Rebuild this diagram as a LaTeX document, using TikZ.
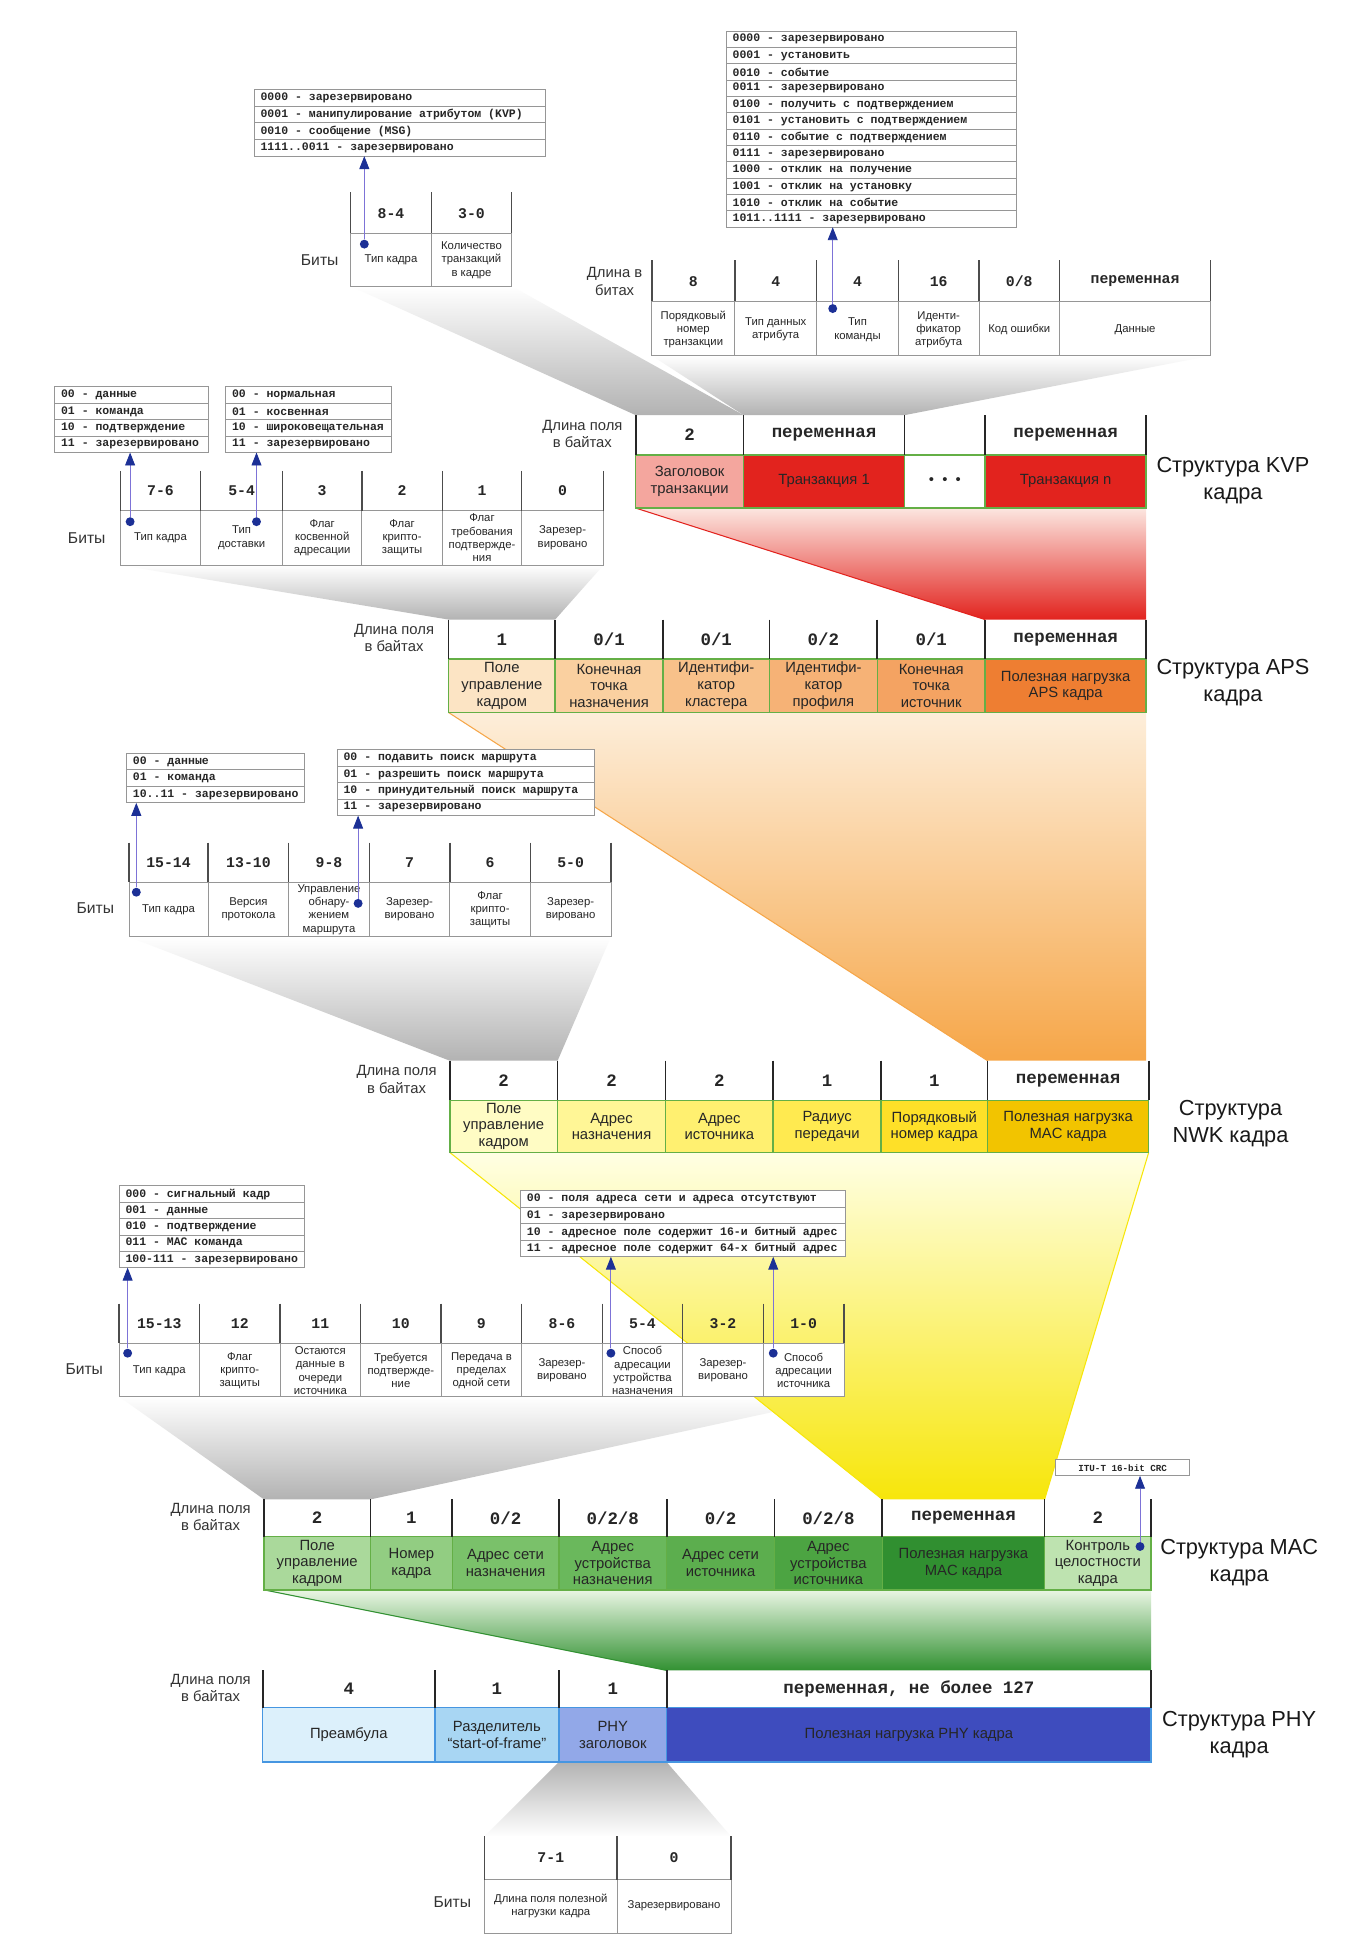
\documentclass[tikz,border=0pt]{standalone}
\usepackage{fontspec}
\setmainfont{Liberation Sans}
\setmonofont{Liberation Mono}
\usetikzlibrary{arrows.meta, positioning, calc}
\definecolor{dotBlue}{RGB}{28, 48, 150}
\definecolor{pointerLine}{RGB}{125, 115, 215}
\definecolor{ruleGray}{RGB}{150, 150, 150}
\definecolor{edgeGreen}{RGB}{100, 175, 70}
\definecolor{edgeBlue}{RGB}{70, 150, 225}
\definecolor{kvpPink}{RGB}{244, 166, 158}
\definecolor{kvpRed}{RGB}{226, 35, 30}
\definecolor{redTop}{RGB}{252, 230, 224}
\definecolor{apsA}{RGB}{252, 228, 196}
\definecolor{apsB}{RGB}{250, 208, 160}
\definecolor{apsC}{RGB}{248, 193, 138}
\definecolor{apsD}{RGB}{246, 178, 118}
\definecolor{apsE}{RGB}{244, 163, 98}
\definecolor{apsF}{RGB}{238, 126, 50}
\definecolor{orangeTop}{RGB}{253, 238, 218}
\definecolor{orangeBot}{RGB}{246, 166, 72}
\definecolor{nwkA}{RGB}{255, 252, 196}
\definecolor{nwkB}{RGB}{255, 246, 150}
\definecolor{nwkC}{RGB}{255, 240, 112}
\definecolor{nwkD}{RGB}{255, 234, 80}
\definecolor{nwkE}{RGB}{254, 224, 40}
\definecolor{nwkF}{RGB}{242, 196, 0}
\definecolor{yellowTop}{RGB}{255, 255, 228}
\definecolor{yellowBot}{RGB}{247, 230, 10}
\definecolor{macA}{RGB}{170, 217, 155}
\definecolor{macB}{RGB}{146, 205, 130}
\definecolor{macC}{RGB}{122, 193, 106}
\definecolor{macD}{RGB}{106, 184, 92}
\definecolor{macE}{RGB}{92, 174, 78}
\definecolor{macF}{RGB}{76, 164, 66}
\definecolor{macG}{RGB}{48, 143, 48}
\definecolor{macH}{RGB}{190, 227, 176}
\definecolor{greenTop}{RGB}{234, 246, 228}
\definecolor{greenBot}{RGB}{50, 145, 50}
\definecolor{phyA}{RGB}{220, 240, 251}
\definecolor{phyB}{RGB}{168, 214, 243}
\definecolor{phyC}{RGB}{146, 168, 232}
\definecolor{phyD}{RGB}{62, 76, 190}
\tikzset{
  lenRule/.style={draw=black!85, line width=1pt},
  fieldEdge/.style={draw=edgeGreen, line width=0.9pt},
  bitRule/.style={draw=black!70, line width=0.8pt},
  thinRule/.style={draw=ruleGray, line width=0.4pt},
  lenText/.style={font=\fontsize{10}{12}\selectfont\ttfamily\bfseries, text=black!85},
  fieldText/.style={font=\fontsize{8.5}{9.6}\selectfont, align=center, text=black!85, inner sep=0pt},
  bitNum/.style={font=\fontsize{8.5}{10}\selectfont\ttfamily\bfseries, text=black!85},
  bitText/.style={font=\fontsize{6.5}{7.6}\selectfont, align=center, text=black!85, inner sep=0pt},
  codeText/.style={font=\fontsize{6.6}{7}\selectfont\ttfamily\bfseries, text=black!85, anchor=west, inner sep=0pt},
  codeBox/.style={draw=ruleGray, fill=white, line width=0.5pt},
  sideText/.style={font=\fontsize{8.5}{10}\selectfont, align=center, text=black!80},
  bitsText/.style={font=\fontsize{9}{11}\selectfont, text=black!80},
  titleText/.style={font=\fontsize{12.5}{15.5}\selectfont, align=center, text=black!90},
  dotMark/.style={circle, fill=dotBlue, inner sep=0pt, minimum size=1.8mm},
  pointer/.style={draw=pointerLine, line width=0.5pt, -{Triangle[length=2.6mm, width=2mm, color=dotBlue]}},
  grayFunnel/.style={top color=white, bottom color=gray!60}
}

\begin{document}
\begin{tikzpicture}[x=0.25mm, y=-0.25mm]
  \useasboundingbox (0,0) rectangle (1096,1568);
  \fill[white] (0,0) rectangle (1096,1568);

  % Funnels between the levels
  \shade[grayFunnel] (283,231) -- (413,231) -- (600,335) -- (513,335) -- cycle;
  \shade[grayFunnel] (526,287) -- (977,287) -- (730,335) -- (600,335) -- cycle;
  \shade[grayFunnel] (97,456) -- (487,456) -- (448,500) -- (362,500) -- cycle;
  \shade[grayFunnel] (104,756) -- (493,756) -- (450,856) -- (363,856) -- cycle;
  \shade[grayFunnel] (96,1127) -- (681,1127) -- (299,1210) -- (213,1210) -- cycle;
  \shade[top color=gray!60, bottom color=white] (451,1422) -- (538,1422) -- (590,1482) -- (391,1482) -- cycle;
  \shade[top color=redTop, bottom color=kvpRed] (513,410) -- (925,410) -- (925,500) -- (795,500) -- cycle;
  \draw[kvpRed, line width=0.6pt] (513,410) -- (795,500);
  \shade[top color=orangeTop, bottom color=orangeBot] (362,575) -- (925,575) -- (925,856) -- (797,856) -- cycle;
  \draw[orangeBot, line width=0.6pt] (362,575) -- (797,856);
  \shade[top color=yellowTop, bottom color=yellowBot] (363,930) -- (927,930) -- (843,1210) -- (712,1210) -- cycle;
  \draw[yellowBot, line width=0.6pt] (363,930) -- (712,1210) (927,930) -- (843,1210);
  \shade[top color=greenTop, bottom color=greenBot] (213,1283) -- (929,1283) -- (929,1348) -- (538,1348) -- cycle;
  \draw[greenBot, line width=0.6pt] (213,1283) -- (538,1348);

  % ---------------- KVP header ----------------
  \foreach \t [count=\i from 0] in {{0000 - зарезервировано}, {0001 - манипулирование атрибутом (KVP)},
      {0010 - сообщение (MSG)}, {1111..0011 - зарезервировано}} {
    \draw[codeBox] (205,{72+13.5*\i}) rectangle (440,{72+13.5*(\i+1)});
    \node[codeText] (ftype\i) at (210,{72+13.5*(\i+0.5)}) {\t};
  }
  \coordinate (ftypeTab) at (294,126);

  \foreach \xa/\xb/\num/\txt [count=\i] in {283/348/8-4/{Тип кадра},
      348/413/3-0/{Количество\\транзакций\\в кадре}} {
    \fill[white] (\xa,188) rectangle (\xb,231);
    \draw[thinRule] (\xa,188) rectangle (\xb,231);
    \draw[bitRule] (\xa,155) -- (\xa,188);
    \node[bitNum] (hdrb-n\i) at ({(\xa+\xb)/2},172) {\num};
    \node[bitText] (hdrb-t\i) at ({(\xa+\xb)/2},210) {\txt};
  }
  \draw[bitRule] (413,155) -- (413,188);
  \node[bitsText] (hdrBits) at (258,210) {Биты};
  \node[dotMark] (ftypeDot) at (294,197) {};
  \draw[pointer] (ftypeDot) -- (ftypeTab);

  % ---------------- KVP transaction ----------------
  \foreach \t [count=\i from 0] in {{0000 - зарезервировано}, {0001 - установить}, {0010 - событие},
      {0011 - зарезервировано}, {0100 - получить с подтверждением}, {0101 - установить с подтверждением},
      {0110 - событие с подтверждением}, {0111 - зарезервировано}, {1000 - отклик на получение},
      {1001 - отклик на установку}, {1010 - отклик на событие}, {1011..1111 - зарезервировано}} {
    \draw[codeBox] (586,{25+13.2*\i}) rectangle (820,{25+13.2*(\i+1)});
    \node[codeText] (cmd\i) at (591,{25+13.2*(\i+0.5)}) {\t};
  }
  \coordinate (cmdTab) at (672,183.4);

  \foreach \xa/\xb/\num/\txt [count=\i] in {
      526/593/8/{Порядковый\\номер\\транзакции},
      593/659/4/{Тип данных\\атрибута},
      659/725/4/{Тип\\команды},
      725/790/16/{Иденти-\\фикатор\\атрибута},
      790/855/{0/8}/{Код ошибки},
      855/977/переменная/{Данные}} {
    \fill[white] (\xa,243) rectangle (\xb,287);
    \draw[thinRule] (\xa,243) rectangle (\xb,287);
    \draw[bitRule] (\xa,210) -- (\xa,243);
    \node[bitNum] (trb-n\i) at ({(\xa+\xb)/2},227) {\num};
    \node[bitText] (trb-t\i) at ({(\xa+\xb)/2},266) {\txt};
  }
  \draw[bitRule] (977,210) -- (977,243);
  \node[sideText] (trLen) at (496,227) {Длина в\\битах};
  \node[dotMark] (cmdDot) at (672,249) {};
  \draw[pointer] (cmdDot) -- (cmdTab);

  % ---------------- KVP frame ----------------
  \foreach \xa/\xb/\len/\txt/\col [count=\i] in {
      513/600/2/{Заголовок\\транзакции}/kvpPink,
      600/730/переменная/{Транзакция 1}/kvpRed,
      730/795/{}/{\textbullet\ \ \textbullet\ \ \textbullet}/white,
      795/925/переменная/{Транзакция n}/kvpRed} {
    \fill[\col] (\xa,367) rectangle (\xb,410);
    \draw[fieldEdge] (\xa,367) rectangle (\xb,410);
    \draw[lenRule] (\xa,335) -- (\xa,367);
    \node[lenText] (kvp-l\i) at ({(\xa+\xb)/2},351) {\len};
    \node[fieldText] (kvp-f\i) at ({(\xa+\xb)/2},388.5) {\txt};
  }
  \draw[lenRule] (925,335) -- (925,367);
  \node[sideText] (kvpLen) at (470,350) {Длина поля\\в байтах};
  \node[titleText] (kvpTitle) at (995,388) {Структура KVP\\кадра};

  % ---------------- APS control bits ----------------
  \foreach \t [count=\i from 0] in {{00 - данные}, {01 - команда}, {10 - подтверждение}, {11 - зарезервировано}} {
    \draw[codeBox] (44,{312+13.3*\i}) rectangle (168,{312+13.3*(\i+1)});
    \node[codeText] (apsType\i) at (49,{312+13.3*(\i+0.5)}) {\t};
  }
  \foreach \t [count=\i from 0] in {{00 - нормальная}, {01 - косвенная}, {10 - широковещательная}, {11 - зарезервировано}} {
    \draw[codeBox] (182,{312+13.3*\i}) rectangle (316,{312+13.3*(\i+1)});
    \node[codeText] (apsDeliv\i) at (187,{312+13.3*(\i+0.5)}) {\t};
  }
  \coordinate (apsTypeTab) at (105,365.2);
  \coordinate (apsDelivTab) at (207,365.2);

  \foreach \xa/\xb/\num/\txt [count=\i] in {
      97/162/7-6/{Тип кадра},
      162/228/5-4/{Тип\\доставки},
      228/292/3/{Флаг\\косвенной\\адресации},
      292/357/2/{Флаг\\крипто-\\защиты},
      357/421/1/{Флаг\\требования\\подтвержде-\\ния},
      421/487/0/{Зарезер-\\вировано}} {
    \fill[white] (\xa,412) rectangle (\xb,456);
    \draw[thinRule] (\xa,412) rectangle (\xb,456);
    \draw[bitRule] (\xa,380) -- (\xa,412);
    \node[bitNum] (apsb-n\i) at ({(\xa+\xb)/2},396) {\num};
    \node[bitText] (apsb-t\i) at ({(\xa+\xb)/2},434) {\txt};
  }
  \draw[bitRule] (487,380) -- (487,412);
  \node[bitsText] (apsBits) at (70,434) {Биты};
  \node[dotMark] (apsTypeDot) at (105,421) {};
  \node[dotMark] (apsDelivDot) at (207,421) {};
  \draw[pointer] (apsTypeDot) -- (apsTypeTab);
  \draw[pointer] (apsDelivDot) -- (apsDelivTab);

  % ---------------- APS frame ----------------
  \foreach \xa/\xb/\len/\txt/\col [count=\i] in {
      362/448/1/{Поле\\управление\\кадром}/apsA,
      448/535/{0/1}/{Конечная\\точка\\назначения}/apsB,
      535/621/{0/1}/{Идентифи-\\катор\\кластера}/apsC,
      621/708/{0/2}/{Идентифи-\\катор\\профиля}/apsD,
      708/795/{0/1}/{Конечная\\точка\\источник}/apsE,
      795/925/переменная/{Полезная нагрузка\\APS кадра}/apsF} {
    \fill[\col] (\xa,532) rectangle (\xb,575);
    \draw[fieldEdge] (\xa,532) rectangle (\xb,575);
    \draw[lenRule] (\xa,500) -- (\xa,532);
    \node[lenText] (aps-l\i) at ({(\xa+\xb)/2},516) {\len};
    \node[fieldText] (aps-f\i) at ({(\xa+\xb)/2},553.5) {\txt};
  }
  \draw[lenRule] (925,500) -- (925,532);
  \node[sideText] (apsLen) at (318,515) {Длина поля\\в байтах};
  \node[titleText] (apsTitle) at (995,551) {Структура APS\\кадра};

  % ---------------- NWK control bits ----------------
  \foreach \t [count=\i from 0] in {{00 - данные}, {01 - команда}, {10..11 - зарезервировано}} {
    \draw[codeBox] (102,{608+13.3*\i}) rectangle (246,{608+13.3*(\i+1)});
    \node[codeText] (nwkType\i) at (107,{608+13.3*(\i+0.5)}) {\t};
  }
  \foreach \t [count=\i from 0] in {{00 - подавить поиск маршрута}, {01 - разрешить поиск маршрута},
      {10 - принудительный поиск маршрута}, {11 - зарезервировано}} {
    \draw[codeBox] (272,{605+13.3*\i}) rectangle (480,{605+13.3*(\i+1)});
    \node[codeText] (nwkRoute\i) at (277,{605+13.3*(\i+0.5)}) {\t};
  }
  \coordinate (nwkTypeTab) at (110,647.9);
  \coordinate (nwkRouteTab) at (289,658.2);

  \foreach \xa/\xb/\num/\txt [count=\i] in {
      104/168/15-14/{Тип кадра},
      168/233/13-10/{Версия\\протокола},
      233/298/9-8/{Управление\\обнару-\\жением\\маршрута},
      298/363/7/{Зарезер-\\вировано},
      363/428/6/{Флаг\\крипто-\\защиты},
      428/493/5-0/{Зарезер-\\вировано}} {
    \fill[white] (\xa,712) rectangle (\xb,756);
    \draw[thinRule] (\xa,712) rectangle (\xb,756);
    \draw[bitRule] (\xa,680) -- (\xa,712);
    \node[bitNum] (nwkb-n\i) at ({(\xa+\xb)/2},696) {\num};
    \node[bitText] (nwkb-t\i) at ({(\xa+\xb)/2},734) {\txt};
  }
  \draw[bitRule] (493,680) -- (493,712);
  \node[bitsText] (nwkBits) at (77,733) {Биты};
  \node[dotMark] (nwkTypeDot) at (110,720) {};
  \node[dotMark] (nwkRouteDot) at (289,729) {};
  \draw[pointer] (nwkTypeDot) -- (nwkTypeTab);
  \draw[pointer] (nwkRouteDot) -- (nwkRouteTab);

  % ---------------- NWK frame ----------------
  \foreach \xa/\xb/\len/\txt/\col [count=\i] in {
      363/450/2/{Поле\\управление\\кадром}/nwkA,
      450/537/2/{Адрес\\назначения}/nwkB,
      537/624/2/{Адрес\\источника}/nwkC,
      624/711/1/{Радиус\\передачи}/nwkD,
      711/797/1/{Порядковый\\номер кадра}/nwkE,
      797/927/переменная/{Полезная нагрузка\\MAC кадра}/nwkF} {
    \fill[\col] (\xa,888) rectangle (\xb,930);
    \draw[fieldEdge] (\xa,888) rectangle (\xb,930);
    \draw[lenRule] (\xa,856) -- (\xa,888);
    \node[lenText] (nwk-l\i) at ({(\xa+\xb)/2},872) {\len};
    \node[fieldText] (nwk-f\i) at ({(\xa+\xb)/2},909) {\txt};
  }
  \draw[lenRule] (927,856) -- (927,888);
  \node[sideText] (nwkLen) at (320,871) {Длина поля\\в байтах};
  \node[titleText] (nwkTitle) at (993,907) {Структура\\NWK кадра};

  % ---------------- MAC control bits ----------------
  \foreach \t [count=\i from 0] in {{000 - сигнальный кадр}, {001 - данные}, {010 - подтверждение},
      {011 - MAC команда}, {100-111 - зарезервировано}} {
    \draw[codeBox] (96,{957+13.2*\i}) rectangle (246,{957+13.2*(\i+1)});
    \node[codeText] (macType\i) at (101,{957+13.2*(\i+0.5)}) {\t};
  }
  \foreach \t [count=\i from 0] in {{00 - поля адреса сети и адреса отсутствуют}, {01 - зарезервировано},
      {10 - адресное поле содержит 16-и битный адрес}, {11 - адресное поле содержит 64-х битный адрес}} {
    \draw[codeBox] (420,{961+13.3*\i}) rectangle (682,{961+13.3*(\i+1)});
    \node[codeText] (macAddr\i) at (425,{961+13.3*(\i+0.5)}) {\t};
  }
  \coordinate (macTypeTab) at (103,1023);
  \coordinate (macDstTab) at (493,1014.2);
  \coordinate (macSrcTab) at (624,1014.2);

  \foreach \xa/\xb/\num/\txt [count=\i] in {
      96/161/15-13/{Тип кадра},
      161/226/12/{Флаг\\крипто-\\защиты},
      226/291/11/{Остаются\\данные в\\очереди\\источника},
      291/356/10/{Требуется\\подтвержде-\\ние},
      356/421/9/{Передача в\\пределах\\одной сети},
      421/486/8-6/{Зарезер-\\вировано},
      486/551/5-4/{Способ\\адресации\\устройства\\назначения},
      551/616/3-2/{Зарезер-\\вировано},
      616/681/1-0/{Способ\\адресации\\источника}} {
    \fill[white] (\xa,1084) rectangle (\xb,1127);
    \draw[thinRule] (\xa,1084) rectangle (\xb,1127);
    \draw[bitRule] (\xa,1052) -- (\xa,1084);
    \node[bitNum] (macb-n\i) at ({(\xa+\xb)/2},1068) {\num};
    \node[bitText] (macb-t\i) at ({(\xa+\xb)/2},1106) {\txt};
  }
  \draw[bitRule] (681,1052) -- (681,1084);
  \node[bitsText] (macBits) at (68,1105) {Биты};
  \node[dotMark] (macTypeDot) at (103,1092) {};
  \node[dotMark] (macDstDot) at (493,1092) {};
  \node[dotMark] (macSrcDot) at (624,1092) {};
  \draw[pointer] (macTypeDot) -- (macTypeTab);
  \draw[pointer] (macDstDot) -- (macDstTab);
  \draw[pointer] (macSrcDot) -- (macSrcTab);

  % ---------------- MAC frame ----------------
  \foreach \xa/\xb/\len/\txt/\col [count=\i] in {
      213/299/2/{Поле\\управление\\кадром}/macA,
      299/365/1/{Номер\\кадра}/macB,
      365/451/{0/2}/{Адрес сети\\назначения}/macC,
      451/538/{0/2/8}/{Адрес\\устройства\\назначения}/macD,
      538/625/{0/2}/{Адрес сети\\источника}/macE,
      625/712/{0/2/8}/{Адрес\\устройства\\источника}/macF,
      712/843/переменная/{Полезная нагрузка\\MAC кадра}/macG,
      843/929/2/{Контроль\\целостности\\кадра}/macH} {
    \fill[\col] (\xa,1240) rectangle (\xb,1283);
    \draw[fieldEdge] (\xa,1240) rectangle (\xb,1283);
    \draw[lenRule] (\xa,1210) -- (\xa,1240);
    \node[lenText] (mac-l\i) at ({(\xa+\xb)/2},1225) {\len};
    \node[fieldText] (mac-f\i) at ({(\xa+\xb)/2},1261.5) {\txt};
  }
  \draw[lenRule] (929,1210) -- (929,1240);
  \node[sideText] (macLen) at (170,1224) {Длина поля\\в байтах};
  \node[titleText] (macTitle) at (1000,1261) {Структура MAC\\кадра};

  % CRC note
  \draw[codeBox] (852,1178) rectangle (960,1191);
  \node[font=\fontsize{5.3}{6}\selectfont\ttfamily\bfseries, text=black!85, inner sep=0pt] (crcNote) at (906,1184.5) {ITU-T 16-bit CRC};
  \coordinate (crcTab) at (920,1191);
  \node[dotMark] (crcDot) at (920,1248) {};
  \draw[pointer] (crcDot) -- (crcTab);

  % ---------------- PHY frame ----------------
  \foreach \xa/\xb/\len/\txt/\col [count=\i] in {
      212/351/4/{Преамбула}/phyA,
      351/451/1/{Разделитель\\``start-of-frame''}/phyB,
      451/538/1/{PHY\\заголовок}/phyC,
      538/929/{переменная, не более 127}/{Полезная нагрузка PHY кадра}/phyD} {
    \fill[\col] (\xa,1378) rectangle (\xb,1422);
    \draw[fieldEdge, draw=edgeBlue] (\xa,1378) rectangle (\xb,1422);
    \draw[lenRule] (\xa,1348) -- (\xa,1378);
    \node[lenText] (phy-l\i) at ({(\xa+\xb)/2},1363) {\len};
    \node[fieldText] (phy-f\i) at ({(\xa+\xb)/2},1400) {\txt};
  }
  \draw[lenRule] (929,1348) -- (929,1378);
  \node[sideText] (phyLen) at (170,1362) {Длина поля\\в байтах};
  \node[titleText] (phyTitle) at (1000,1400) {Структура PHY\\кадра};

  % ---------------- PHY header bits ----------------
  \foreach \xa/\xb/\num/\txt [count=\i] in {
      391/498/7-1/{Длина поля полезной\\нагрузки кадра},
      498/590/0/{Зарезервировано}} {
    \fill[white] (\xa,1517) rectangle (\xb,1560);
    \draw[thinRule] (\xa,1517) rectangle (\xb,1560);
    \draw[bitRule] (\xa,1482) -- (\xa,1517);
    \node[bitNum] (phyb-n\i) at ({(\xa+\xb)/2},1499) {\num};
    \node[bitText] (phyb-t\i) at ({(\xa+\xb)/2},1538) {\txt};
  }
  \draw[bitRule] (590,1482) -- (590,1517);
  \node[bitsText] (phyBits) at (365,1535) {Биты};
\end{tikzpicture}
\end{document}
